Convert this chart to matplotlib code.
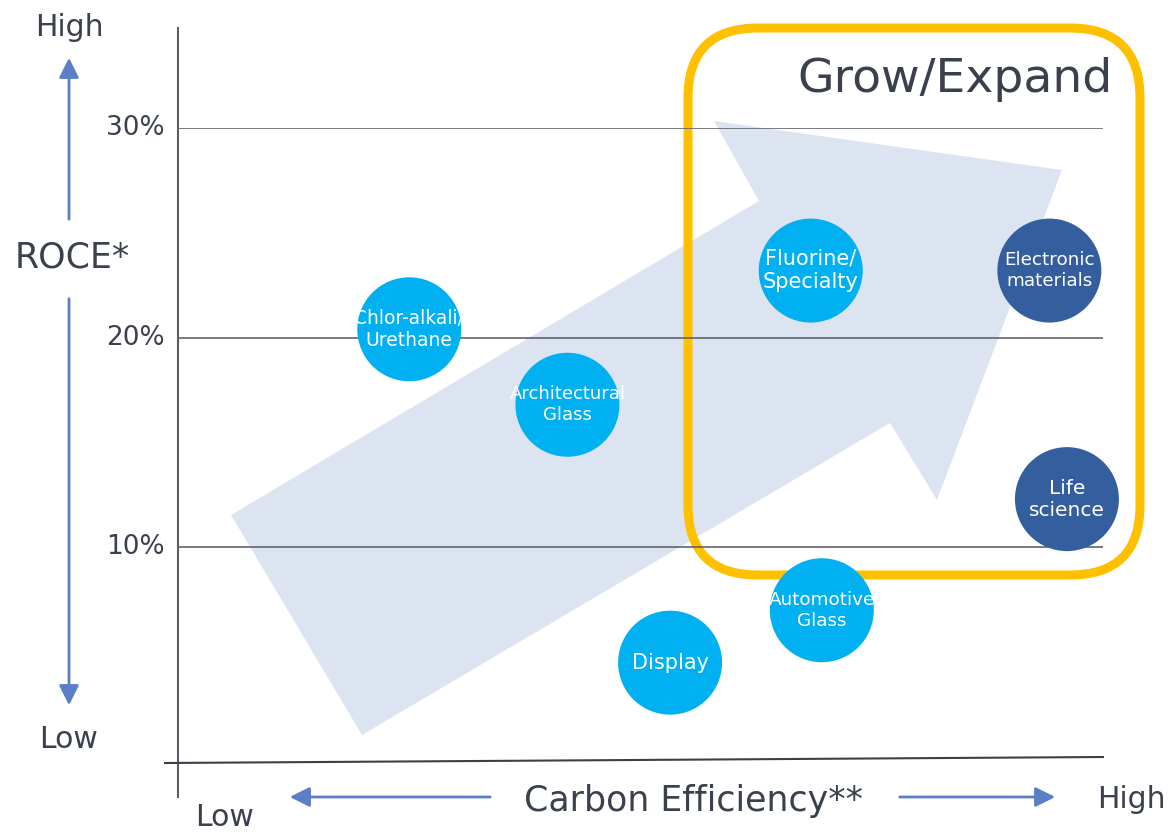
import matplotlib
matplotlib.use("Agg")
import matplotlib.pyplot as plt
from matplotlib.patches import Polygon, FancyBboxPatch, FancyArrowPatch

# business segments: carbon efficiency (0-100, relative) vs ROCE (%)
segments = ["Chlor-alkali/\nUrethane", "Architectural\nGlass", "Fluorine/\nSpecialty",
            "Electronic\nmaterials", "Life\nscience", "Automotive\nGlass", "Display"]
carbon_eff = [25.0, 42.1, 68.4, 94.2, 96.1, 69.6, 53.2]
roce = [20.4, 16.8, 23.2, 23.2, 12.3, 7.0, 4.5]
strategic = [False, False, False, True, True, False, False]
roce_ticks = [10, 20, 30]

W, H = 1171, 832
TXT = "#3a404d"
AXIS_BLUE = "#5b7ec6"
LIGHT = "#00b0f0"
DARK = "#355e9f"
label_size = {"Chlor-alkali/\nUrethane": 13.5, "Architectural\nGlass": 13,
              "Automotive\nGlass": 13.2, "Electronic\nmaterials": 13.2,
              "Fluorine/\nSpecialty": 15, "Display": 15, "Life\nscience": 14.5}

fig = plt.figure(figsize=(W / 100, H / 100), dpi=100)

# background layer in pixel coordinates (decorations)
bg = fig.add_axes([0, 0, 1, 1])
bg.set_xlim(0, W)
bg.set_ylim(H, 0)
bg.axis("off")

# big direction arrow
bg.add_patch(Polygon([(231, 515), (759, 201), (714, 121), (1062, 170),
                      (937, 500), (890, 423), (362, 735)],
                     closed=True, facecolor="#dde4f1", edgecolor="none", zorder=1))

# Grow/Expand box
bg.add_patch(FancyBboxPatch((688, 28), 452, 547,
                            boxstyle="round,pad=0,rounding_size=70",
                            facecolor="none", edgecolor="#ffc000", lw=6.5, zorder=2))
bg.text(1113, 80, "Grow/Expand", fontsize=34, color=TXT, ha="right", va="center")

# axes lines
bg.plot([178, 178], [28, 797], color="#5a5f66", lw=1.5, zorder=3)
bg.plot([165, 1103], [763, 757], color="#3c4046", lw=1.5, zorder=3)


def axis_arrow(start, end):
    bg.add_patch(FancyArrowPatch(start, end, arrowstyle="-|>,head_length=0.6,head_width=0.3",
                                 mutation_scale=20, color=AXIS_BLUE, lw=2, zorder=3))


axis_arrow((69, 222), (69, 55))
axis_arrow((69, 296), (69, 708))
axis_arrow((493, 797), (287, 797))
axis_arrow((897, 797), (1058, 797))

bg.text(69, 27, "High", fontsize=21.5, color=TXT, ha="center", va="center")
bg.text(68, 740, "Low", fontsize=21.5, color=TXT, ha="center", va="center")
bg.text(72, 258, "ROCE*", fontsize=25, color=TXT, ha="center", va="center")
bg.text(693, 801, "Carbon Efficiency**", fontsize=25, color=TXT, ha="center", va="center")
bg.text(1131, 800, "High", fontsize=21.5, color=TXT, ha="center", va="center")
bg.text(225, 817, "Low", fontsize=21.5, color=TXT, ha="center", va="center")

# data layer: x = carbon efficiency, y = ROCE %
ax = fig.add_axes([178 / W, (H - 757) / H, (1103 - 178) / W, (757 - 128) / H])
ax.set_xlim(0, 100)
ax.set_ylim(0, 30)
ax.axis("off")
ax.patch.set_alpha(0)

ax.hlines(roce_ticks, 0, 100, color="#60646b", lw=1.2, zorder=1)
for v in roce_ticks:
    ax.text(-1.4, v, f"{v}%", fontsize=19, color=TXT, ha="right", va="center")

colors = [DARK if s else LIGHT for s in strategic]
ax.scatter(carbon_eff, roce, s=5606, c=colors, edgecolors="none", zorder=3, clip_on=False)
for name, x, y in zip(segments, carbon_eff, roce):
    ax.text(x, y, name, fontsize=label_size.get(name, 13), color="white",
            ha="center", va="center", linespacing=1.2, zorder=4)

fig.savefig("out.png", dpi=100)
